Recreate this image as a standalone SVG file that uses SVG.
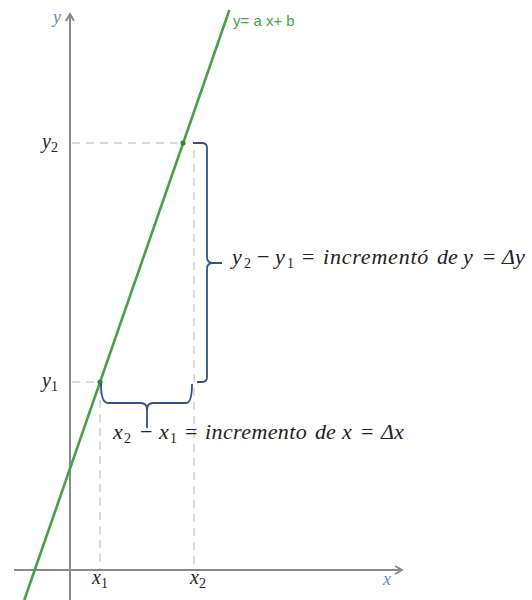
<svg xmlns="http://www.w3.org/2000/svg" width="532" height="600" viewBox="0 0 532 600">
<defs>
<style>
.axis{stroke:#8a8a8a;stroke-width:2;fill:none}
.dash{stroke:#b8b8b8;stroke-width:1;stroke-dasharray:8,6;fill:none}
.brace{stroke:#34518f;stroke-width:1.8;fill:none;stroke-linejoin:round}
.m{font-family:"Liberation Serif","DejaVu Serif",serif;font-style:italic;font-size:22px;fill:#222}
.l{font-family:"Liberation Serif","DejaVu Serif",serif;font-style:italic;font-size:20px;fill:#222}
.sub{font-style:normal;font-size:14px}
.up{font-style:normal}
.w{letter-spacing:0.8px}
.w2{letter-spacing:0.4px}
.ax{font-family:"Liberation Serif",serif;font-style:italic;font-size:18px;fill:#6f86b5}
.lbl{font-family:"Liberation Sans","Noto Sans",sans-serif;font-size:15px;fill:#44a344}
</style>
<marker id="arr" viewBox="0 0 10 10" refX="8" refY="5" markerWidth="5" markerHeight="5" orient="auto" markerUnits="strokeWidth">
<path d="M1,1 L8,5 L1,9" fill="none" stroke="#8a8a8a" stroke-width="2"/>
</marker>
</defs>
<rect width="532" height="600" fill="#ffffff"/>
<g id="axes">
<line class="axis" x1="70" y1="600" x2="70" y2="14" marker-end="url(#arr)"/>
<line class="axis" x1="14" y1="570" x2="402" y2="570" marker-end="url(#arr)"/>
<text class="ax" x="53" y="23">y</text>
<text class="ax" x="383" y="585">x</text>
</g>
<g id="connectors">
<line class="dash" x1="72" y1="143" x2="183" y2="143"/>
<line class="dash" x1="194" y1="150" x2="194" y2="569"/>
<line class="dash" x1="72" y1="382" x2="100" y2="382"/>
<line class="dash" x1="100" y1="386" x2="100" y2="569"/>
</g>
<g id="line">
<line x1="24.3" y1="600" x2="229.4" y2="10" stroke="#46a046" stroke-width="2.6"/>
<circle cx="100" cy="382" r="2.6" fill="#2f8a2f"/>
<circle cx="183" cy="143" r="2.6" fill="#2f8a2f"/>
<text class="lbl" x="233" y="26">y= a x+ b</text>
</g>
<g id="brace-y">
<path class="brace" d="M193,143 L202,143 Q207,143 207,148 L207,257 Q207,263 213,263 L222,263 M213,263 Q207,263 207,269 L207,377 Q207,382 202,382 L197,382"/>
</g>
<g id="brace-x">
<path class="brace" d="M101,384 Q101,403 108,403 L141,403 Q147,403 147,410 L147,428 M147,410 Q147,403 153,403 L186,403 Q192,403 192,384"/>
</g>
<g id="labels">
<text class="l" x="42" y="148">y<tspan class="sub" dy="4">2</tspan></text>
<text class="l" x="42" y="387">y<tspan class="sub" dy="4">1</tspan></text>
<text class="l" x="92" y="584">x<tspan class="sub" dy="4">1</tspan></text>
<text class="l" x="190" y="584">x<tspan class="sub" dy="4">2</tspan></text>
<text class="m" y="264"><tspan x="232">y</tspan><tspan class="sub" x="244" y="268">2</tspan><tspan class="up" x="257" y="264">−</tspan><tspan x="275">y</tspan><tspan class="sub" x="287" y="268">1</tspan><tspan class="up" x="302" y="264">=</tspan><tspan class="w" x="323">incrementó</tspan><tspan x="437">de</tspan><tspan x="463">y</tspan><tspan class="up" x="483">=</tspan><tspan x="502">Δy</tspan></text>
<text class="m" y="439"><tspan x="113">x</tspan><tspan class="sub" x="124" y="443">2</tspan><tspan class="up" x="140" y="439">−</tspan><tspan x="159">x</tspan><tspan class="sub" x="170" y="443">1</tspan><tspan class="up" x="185" y="439">=</tspan><tspan class="w2" x="205">incremento</tspan><tspan x="315">de</tspan><tspan x="342">x</tspan><tspan class="up" x="361">=</tspan><tspan x="381">Δx</tspan></text>
</g>
</svg>
